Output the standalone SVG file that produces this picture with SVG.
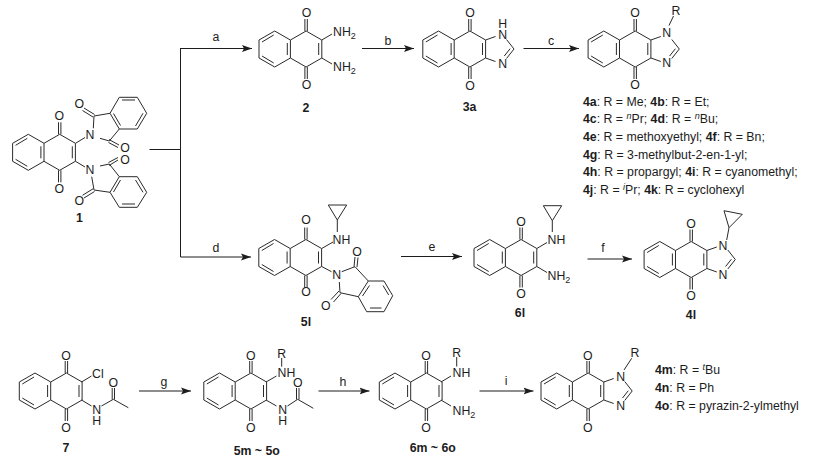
<svg xmlns="http://www.w3.org/2000/svg" xmlns:xlink="http://www.w3.org/1999/xlink" width="819" height="467" viewBox="0 0 819 467">
<style>
text{font-family:"Liberation Sans",Arial,sans-serif;font-size:12.3px;fill:#1c1c1c}
.a{text-anchor:middle}
.b{font-weight:700}
.s{font-size:9px}
.bond{fill:none;stroke:#2a2a2a;stroke-width:1;stroke-linejoin:round}
.arrow{fill:none;stroke:#1c1c1c;stroke-width:1}
</style>
<defs>
<marker id="head" viewBox="0 0 10 8" refX="10" refY="4" markerWidth="10" markerHeight="8" markerUnits="userSpaceOnUse" orient="auto"><path d="M0,0.5L10,4L0,7.5L2,4Z" fill="#1c1c1c"/></marker>
<path id="naph" class="bond" d="M-15.7,-9L0,-18L15.7,-9L15.7,9L0,18L-15.7,9ZM15.7,-9L31.4,-18L47.1,-9L47.1,9L31.4,18L15.7,9M-12.7,-7L-1,-14M-12.7,7L-1,14M12.6,-6V6M44,-6V6M30.2,-18V-30M32.6,-18V-30M30.2,18V30M32.6,18V30"/>
<path id="imid" class="bond" d="M47.1,-9L57,-12.5M68,-9.5L75.5,0L68,9.5M47.1,9L57,12.5M71.6,-0.3L65.8,7"/>
</defs>
<g id="connectors">
<path class="arrow" d="M149.5,149.5H180.5M180.5,48V257"/>
<path class="arrow" marker-end="url(#head)" d="M180.5,48.5H252"/>
<path class="arrow" marker-end="url(#head)" d="M180.5,257H251"/>
<path class="arrow" marker-end="url(#head)" d="M362,48.5H414"/>
<path class="arrow" marker-end="url(#head)" d="M523.5,48.5H579"/>
<path class="arrow" marker-end="url(#head)" d="M401,256.5H462"/>
<path class="arrow" marker-end="url(#head)" d="M587.5,259H632"/>
<path class="arrow" marker-end="url(#head)" d="M139,391H191"/>
<path class="arrow" marker-end="url(#head)" d="M318.5,391H369.5"/>
<path class="arrow" marker-end="url(#head)" d="M479.5,391H533.5"/>
<text class="a" x="216" y="41">a</text>
<text class="a" x="388" y="45">b</text>
<text class="a" x="551" y="45">c</text>
<text class="a" x="216" y="252">d</text>
<text class="a" x="432" y="251">e</text>
<text class="a" x="603" y="252">f</text>
<text class="a" x="164" y="386">g</text>
<text class="a" x="343" y="386">h</text>
<text class="a" x="506" y="385">i</text>
</g>
<g id="c1">
<use xlink:href="#naph" href="#naph" x="28.3" y="152.3"/>
<path class="bond" d="M75.5,143.3L85,137.5M75.5,161.3L85,167M93.3,128.3L94,116L110,113.3L119.3,129L137.3,129L146.7,113.3L137.3,97.3L119.3,97.3L110,113.3M100,138.3L109.3,141L119.3,129M94.5,114.5L84,108M93,117L82.5,110.5M109,139.5L119,145M108.5,142.5L118,147.5M122,100H135M143,113.3L135.5,126M113.5,113.5L120.5,125.5"/>
<path class="bond" d="M100,166L109.3,164L119.3,176.7L137.3,176.7L146.7,192.3L137.3,207.3L119.3,207.3L110,192.3L119.3,176.7M91.7,176.7L94,190L110,192.3M109,165.5L118,160M108.5,162.5L118,157.5M94.5,191.5L84,198M93,188.8L82.5,195.3M122,204H135M143,192.3L135.5,180M113.5,192L120.5,180"/>
<text class="a" x="59.3" y="120.3">O</text><text class="a" x="59.3" y="192.6">O</text>
<text class="a" x="90" y="139.3">N</text><text class="a" x="90" y="174.3">N</text>
<text class="a" x="79.3" y="108.3">O</text><text class="a" x="125" y="152">O</text>
<text class="a" x="125" y="164.3">O</text><text class="a" x="79.3" y="205">O</text>
<text class="a b" x="79.3" y="222">1</text>
</g>
<g id="c2">
<use xlink:href="#naph" href="#naph" x="274.7" y="49"/>
<path class="bond" d="M321.8,40L332,34M321.8,58L332,64"/>
<text class="a" x="306.5" y="17">O</text><text class="a" x="306.5" y="89.3">O</text>
<text x="333" y="36">NH<tspan class="s" dy="3">2</tspan></text>
<text x="333" y="71">NH<tspan class="s" dy="3">2</tspan></text>
<text class="a b" x="306" y="112">2</text>
</g>
<g id="c3a">
<use xlink:href="#naph" href="#naph" x="438.5" y="49"/>
<use xlink:href="#imid" href="#imid" x="438.5" y="49"/>
<text class="a" x="470" y="17.3">O</text><text class="a" x="470" y="90.3">O</text>
<text class="a" x="502.7" y="28.3">H</text><text class="a" x="502.7" y="39.3">N</text><text class="a" x="502.7" y="67.6">N</text>
<text class="a b" x="469.5" y="111">3a</text>
</g>
<g id="c4a">
<use xlink:href="#naph" href="#naph" x="603.8" y="49"/>
<use xlink:href="#imid" href="#imid" x="603.8" y="49"/>
<path class="bond" d="M669,25.5L673.5,16"/>
<text class="a" x="635" y="17">O</text><text class="a" x="635" y="88.6">O</text>
<text class="a" x="666.7" y="36.6">N</text><text class="a" x="666.7" y="67">N</text>
<text class="a" x="676" y="15">R</text>
<text x="583" y="105.5"><tspan class="b">4a</tspan>: R = Me; <tspan class="b">4b</tspan>: R = Et;</text>
<text x="583" y="123"><tspan class="b">4c</tspan>: R = <tspan class="s" dy="-4" font-style="italic">n</tspan><tspan dy="4">Pr; </tspan><tspan class="b">4d</tspan>: R = <tspan class="s" dy="-4" font-style="italic">n</tspan><tspan dy="4">Bu;</tspan></text>
<text x="583" y="141"><tspan class="b">4e</tspan>: R = methoxyethyl; <tspan class="b">4f</tspan>: R = Bn;</text>
<text x="583" y="158.5"><tspan class="b">4g</tspan>: R = 3-methylbut-2-en-1-yl;</text>
<text x="583" y="176"><tspan class="b">4h</tspan>: R = propargyl; <tspan class="b">4i</tspan>: R = cyanomethyl;</text>
<text x="583" y="193.5"><tspan class="b">4j</tspan>: R = <tspan class="s" dy="-4" font-style="italic">i</tspan><tspan dy="4">Pr; </tspan><tspan class="b">4k</tspan>: R = cyclohexyl</text>
</g>
<g id="c5l">
<use xlink:href="#naph" href="#naph" x="274.5" y="257.5"/>
<path class="bond" d="M321.7,248.5L333,242M321.7,266.5L331.5,271.7M328.3,205H346.7L337.3,220ZM337.3,220V232M341.7,271.7L355,266.7L368.3,281H384L392.7,295.7L384,311.7H366.7L358.3,296.7L368.3,281M339.3,282L340,292.7L358.3,296.7M354,266.7L355,257M357,267L358,257.5M339,291L331,299.5M341,293.5L333.5,302M369.5,285.5L362.5,296M383,285.5L388.7,295M370,308H381.5"/>
<text class="a" x="306" y="223.5">O</text><text class="a" x="306" y="296">O</text>
<text x="332.5" y="243.5">NH</text>
<text class="a" x="336.7" y="278.5">N</text>
<text class="a" x="357" y="255.5">O</text><text class="a" x="325.7" y="310">O</text>
<text class="a b" x="306" y="326">5l</text>
</g>
<g id="c6l">
<use xlink:href="#naph" href="#naph" x="489.7" y="257.5"/>
<path class="bond" d="M536.8,248.5L547,242.5M536.8,266.5L547,272.5M543.3,205.7H561.7L552.3,220.7ZM552.3,220.7V232"/>
<text class="a" x="521" y="226">O</text><text class="a" x="521" y="298.3">O</text>
<text x="547.5" y="243.5">NH</text>
<text x="547.5" y="280">NH<tspan class="s" dy="3">2</tspan></text>
<text class="a b" x="520" y="316.5">6l</text>
</g>
<g id="c4l">
<use xlink:href="#naph" href="#naph" x="659.8" y="259.5"/>
<use xlink:href="#imid" href="#imid" x="659.8" y="259.5"/>
<path class="bond" d="M726.7,240L729,227.7M729,227.7L724,210.7L742.3,214.3Z"/>
<text class="a" x="691" y="227.5">O</text><text class="a" x="691" y="299.5">O</text>
<text class="a" x="723" y="249.5">N</text><text class="a" x="723" y="278.5">N</text>
<text class="a b" x="691" y="319">4l</text>
</g>
<g id="c7">
<use xlink:href="#naph" href="#naph" x="35" y="391"/>
<path class="bond" d="M81.5,382L91.5,376M81.5,400L91.5,406M101.5,406L113.3,399.3L128.3,407.7M112.2,399.5V388M114.5,399.5V388"/>
<text class="a" x="66" y="360">O</text><text class="a" x="66" y="432">O</text>
<text x="92" y="377.5">Cl</text>
<text class="a" x="96.7" y="414.3">N</text><text class="a" x="96.7" y="425.3">H</text>
<text class="a" x="113.3" y="387">O</text>
<text class="a b" x="66" y="452">7</text>
</g>
<g id="c5m">
<use xlink:href="#naph" href="#naph" x="219.5" y="391"/>
<path class="bond" d="M266,382L276.5,376M266,400L276.5,406M281.7,358V366.7M287.5,406L297.7,399.3L313.3,408.3M296.5,399.5V388M299,399.5V388"/>
<text class="a" x="250.7" y="360">O</text><text class="a" x="250.7" y="432">O</text>
<text class="a" x="281.7" y="357.5">R</text>
<text x="277.5" y="376.5">NH</text>
<text class="a" x="282.7" y="414.3">N</text><text class="a" x="282.7" y="425.3">H</text>
<text class="a" x="297.7" y="387">O</text>
<text class="a b" x="256.7" y="455">5m ~ 5o</text>
</g>
<g id="c6m">
<use xlink:href="#naph" href="#naph" x="395" y="391"/>
<path class="bond" d="M441,382L451,376M441,400L451,406M456.7,357V366.5"/>
<text class="a" x="426" y="360">O</text><text class="a" x="426" y="432">O</text>
<text class="a" x="456.7" y="356.5">R</text>
<text x="452.5" y="376.5">NH</text>
<text x="452.5" y="415">NH<tspan class="s" dy="3">2</tspan></text>
<text class="a b" x="432.7" y="452">6m ~ 6o</text>
</g>
<g id="c4m">
<use xlink:href="#naph" href="#naph" x="556.7" y="391"/>
<use xlink:href="#imid" href="#imid" x="556.7" y="391"/>
<path class="bond" d="M624,370L631.7,358.3"/>
<text class="a" x="587.7" y="360">O</text><text class="a" x="587.7" y="432">O</text>
<text class="a" x="620.7" y="381">N</text><text class="a" x="620.7" y="410">N</text>
<text class="a" x="635" y="356.5">R</text>
<text x="655" y="374.3"><tspan class="b">4m</tspan>: R = <tspan class="s" dy="-4" font-style="italic">t</tspan><tspan dy="4">Bu</tspan></text>
<text x="655" y="392.3"><tspan class="b">4n</tspan>: R = Ph</text>
<text x="655" y="410"><tspan class="b">4o</tspan>: R = pyrazin-2-ylmethyl</text>
</g>
</svg>
